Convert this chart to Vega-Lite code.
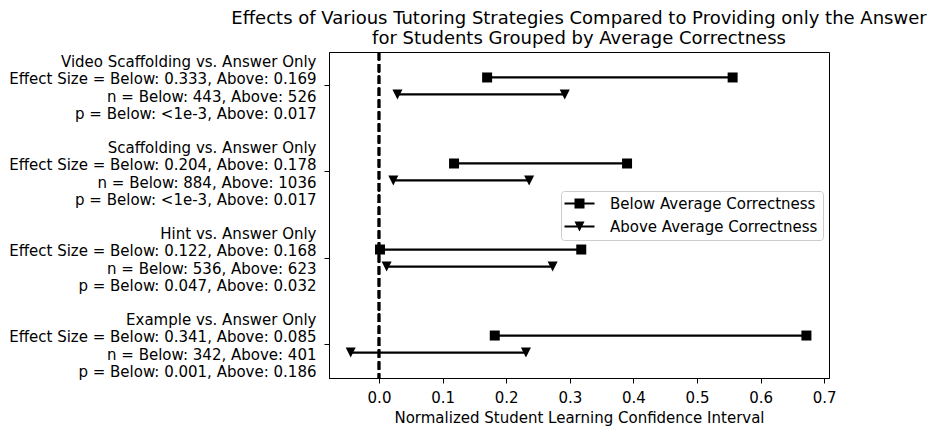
{
  "$schema": "https://vega.github.io/schema/vega-lite/v6.json",
  "autosize": "none",
  "width": 500,
  "height": 326,
  "padding": {"left": 329, "top": 52, "right": 98, "bottom": 49},
  "background": "white",
  "title": {
    "text": ["Effects of Various Tutoring Strategies Compared to Providing only the Answer", "for Students Grouped by Average Correctness"],
    "font": "DejaVu Sans", "fontSize": 18, "fontWeight": "normal", "color": "black",
    "anchor": "middle", "frame": "group", "offset": 3, "lineHeight": 20
  },
  "data": {
    "values": [
      {"label": "Video Scaffolding vs. Answer Only\nEffect Size = Below: 0.333, Above: 0.169\nn = Below: 443, Above: 526\np = Below: <1e-3, Above: 0.017", "group": "Below Average Correctness", "lo": 0.170, "hi": 0.556},
      {"label": "Video Scaffolding vs. Answer Only\nEffect Size = Below: 0.333, Above: 0.169\nn = Below: 443, Above: 526\np = Below: <1e-3, Above: 0.017", "group": "Above Average Correctness", "lo": 0.029, "hi": 0.292},
      {"label": "Scaffolding vs. Answer Only\nEffect Size = Below: 0.204, Above: 0.178\nn = Below: 884, Above: 1036\np = Below: <1e-3, Above: 0.017", "group": "Below Average Correctness", "lo": 0.118, "hi": 0.390},
      {"label": "Scaffolding vs. Answer Only\nEffect Size = Below: 0.204, Above: 0.178\nn = Below: 884, Above: 1036\np = Below: <1e-3, Above: 0.017", "group": "Above Average Correctness", "lo": 0.0225, "hi": 0.236},
      {"label": "Hint vs. Answer Only\nEffect Size = Below: 0.122, Above: 0.168\nn = Below: 536, Above: 623\np = Below: 0.047, Above: 0.032", "group": "Below Average Correctness", "lo": 0.0016, "hi": 0.318},
      {"label": "Hint vs. Answer Only\nEffect Size = Below: 0.122, Above: 0.168\nn = Below: 536, Above: 623\np = Below: 0.047, Above: 0.032", "group": "Above Average Correctness", "lo": 0.012, "hi": 0.273},
      {"label": "Example vs. Answer Only\nEffect Size = Below: 0.341, Above: 0.085\nn = Below: 342, Above: 401\np = Below: 0.001, Above: 0.186", "group": "Below Average Correctness", "lo": 0.182, "hi": 0.672},
      {"label": "Example vs. Answer Only\nEffect Size = Below: 0.341, Above: 0.085\nn = Below: 342, Above: 401\np = Below: 0.001, Above: 0.186", "group": "Above Average Correctness", "lo": -0.0445, "hi": 0.231}
    ]
  },
  "encoding": {
    "y": {
      "field": "label", "type": "nominal", "sort": null, "title": null,
      "scale": {"type": "band", "paddingInner": 0.21, "paddingOuter": 0},
      "axis": {"labelExpr": "split(datum.value, '\\n')", "labelLineHeight": 17.3, "labelPadding": 8, "labelLimit": 0, "labelOffset": -24}
    },
    "yOffset": {
      "field": "group", "type": "nominal",
      "scale": {"domain": ["Below Average Correctness", "Above Average Correctness"], "paddingInner": 0, "paddingOuter": 1}
    }
  },
  "layer": [
    {
      "mark": {"type": "rule", "color": "black", "strokeWidth": 2.25, "strokeDash": [8.3, 3.6]},
      "encoding": {"x": {"datum": 0}, "y": null, "yOffset": null}
    },
    {
      "mark": {"type": "rule", "color": "black", "strokeWidth": 2.25},
      "encoding": {
        "x": {
          "field": "lo", "type": "quantitative",
          "scale": {"domain": [-0.0786, 0.7075], "nice": false, "zero": false},
          "axis": {"values": [0, 0.1, 0.2, 0.3, 0.4, 0.5, 0.6, 0.7], "format": ".1f", "title": "Normalized Student Learning Confidence Interval", "labelPadding": 7, "titlePadding": 5}
        },
        "x2": {"field": "hi"}
      }
    },
    {
      "transform": [{"fold": ["lo", "hi"], "as": ["end", "val"]}],
      "mark": {"type": "point", "filled": true, "color": "black", "opacity": 1, "size": 100},
      "encoding": {
        "x": {"field": "val", "type": "quantitative"},
        "shape": {
          "field": "group", "type": "nominal",
          "scale": {"domain": ["Below Average Correctness", "Above Average Correctness"], "range": ["square", "M-1,-1H1L0,1Z"]},
          "legend": null
        }
      }
    },
    {
      "transform": [{"filter": "false"}],
      "mark": {"type": "point", "filled": true, "color": "black", "opacity": 1, "size": 100},
      "encoding": {
        "x": {"field": "lo", "type": "quantitative"},
        "shape": {
          "field": "group", "type": "nominal",
          "scale": {"domain": ["Below Average Correctness", "Above Average Correctness"], "range": ["M-3,-0.22H3V0.22H-3Z M-1,-1H1V1H-1Z", "M-3,-0.22H3V0.22H-3Z M-1,-1H1L0,1Z"]},
          "legend": {
            "title": null, "orient": "none", "legendX": 232, "legendY": 139,
            "symbolSize": 100, "labelFontSize": 15, "labelFont": "DejaVu Sans", "labelColor": "black", "labelLimit": 0,
            "strokeColor": "#cccccc", "fillColor": "#ffffff", "padding": 5, "cornerRadius": 3,
            "rowPadding": 7, "labelOffset": 23, "symbolOffset": 6, "symbolFillColor": "black", "symbolStrokeWidth": 0
          }
        }
      }
    }
  ],
  "resolve": {"scale": {"shape": "independent"}, "legend": {"shape": "independent"}},
  "config": {
    "font": "DejaVu Sans",
    "view": {"stroke": "black", "strokeWidth": 1},
    "axis": {
      "domainColor": "black", "tickColor": "black", "labelColor": "black", "titleColor": "black",
      "labelFont": "DejaVu Sans", "titleFont": "DejaVu Sans", "labelFontSize": 15, "titleFontSize": 15,
      "titleFontWeight": "normal", "tickSize": 5, "grid": false, "domainWidth": 1
    }
  }
}
